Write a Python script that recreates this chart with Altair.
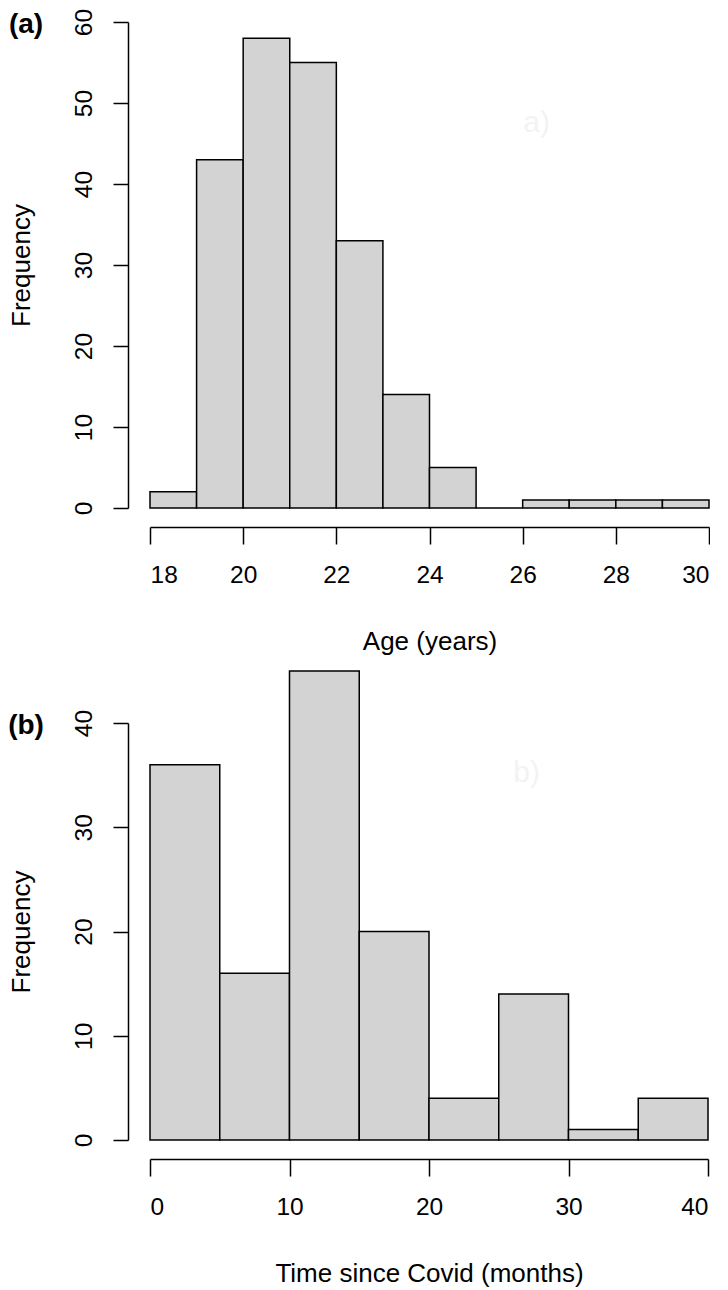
import altair as alt
import pandas as pd

# Panel (a): Age histogram
age_start = [18, 19, 20, 21, 22, 23, 24, 25, 26, 27, 28, 29]
age_end = [19, 20, 21, 22, 23, 24, 25, 26, 27, 28, 29, 30]
age_count = [2, 43, 58, 55, 33, 14, 5, 0, 1, 1, 1, 1]
age_xticks = [18, 20, 22, 24, 26, 28, 30]
age_yticks = [0, 10, 20, 30, 40, 50, 60]

# Panel (b): Time since Covid histogram
time_start = [0, 5, 10, 15, 20, 25, 30, 35]
time_end = [5, 10, 15, 20, 25, 30, 35, 40]
time_count = [36, 16, 45, 20, 4, 14, 1, 4]
time_xticks = [0, 10, 20, 30, 40]
time_yticks = [0, 10, 20, 30, 40]

# faint in-panel labels
note_a = {"x": [26.3], "y": [47.5], "t": ["a)"]}
note_b = {"x": [27.0], "y": [35.2], "t": ["b)"]}

FONT = "Liberation Sans"
LBL = 24.5
TTL = 26


def panel(starts, ends, counts, xdom, ydom, xticks, yticks, xtitle, tag, note,
          w, h):
    df = pd.DataFrame({"start": starts, "end": ends, "count": counts})
    xs = alt.Scale(domain=xdom, nice=False, zero=False)
    ys = alt.Scale(domain=ydom, nice=False)
    xaxis = alt.Axis(values=xticks, title=xtitle, offset=19, tickSize=17,
                     grid=False, labelFontSize=LBL, titleFontSize=TTL,
                     labelPadding=19, titlePadding=42,
                     titleFontWeight="normal", labelFont=FONT, titleFont=FONT,
                     domainColor="black", tickColor="black",
                     domainWidth=1.5, tickWidth=1.5,
                     labelColor="black", titleColor="black", format="d")
    yaxis = alt.Axis(values=yticks, title="Frequency", offset=22, tickSize=15,
                     grid=False, labelFontSize=LBL, titleFontSize=TTL,
                     labelAngle=270, labelAlign="center", labelBaseline="bottom",
                     labelPadding=17, titlePadding=37,
                     titleFontWeight="normal", labelFont=FONT, titleFont=FONT,
                     domainColor="black", tickColor="black",
                     domainWidth=1.5, tickWidth=1.5,
                     labelColor="black", titleColor="black", format="d")
    bars = alt.Chart(df).mark_rect(
        fill="#d3d3d3", stroke="black", strokeWidth=1.5
    ).encode(
        x=alt.X("start:Q", scale=xs, axis=xaxis),
        x2="end:Q",
        y=alt.Y("count:Q", scale=ys, axis=yaxis),
        y2=alt.datum(0),
    )
    ndf = pd.DataFrame(note)
    txt = alt.Chart(ndf).mark_text(
        fontSize=30, font=FONT, color="#f3f3f3"
    ).encode(
        x=alt.X("x:Q", scale=xs),
        y=alt.Y("y:Q", scale=ys),
        text="t:N",
    )
    tagdf = pd.DataFrame({"t": [tag]})
    tagtxt = alt.Chart(tagdf).mark_text(
        fontSize=28, font=FONT, fontWeight="bold", color="black",
        align="center", baseline="middle"
    ).encode(
        x=alt.value(-124),
        y=alt.value(3),
        text="t:N",
    )
    return alt.layer(bars, txt, tagtxt).properties(width=w, height=h)


pa = panel(age_start, age_end, age_count, [18, 30], [0, 60], age_xticks,
           age_yticks, "Age (years)", "(a)", note_a, 559, 486)
pb = panel(time_start, time_end, time_count, [0, 40], [0, 40], time_xticks,
           time_yticks, "Time since Covid (months)", "(b)", note_b, 558, 417)

chart = alt.vconcat(pa, pb, spacing=15).configure(
    padding=0, background="white"
).configure_view(stroke=None)

chart.save("out.html", embed_options={"renderer": "svg", "actions": False})
